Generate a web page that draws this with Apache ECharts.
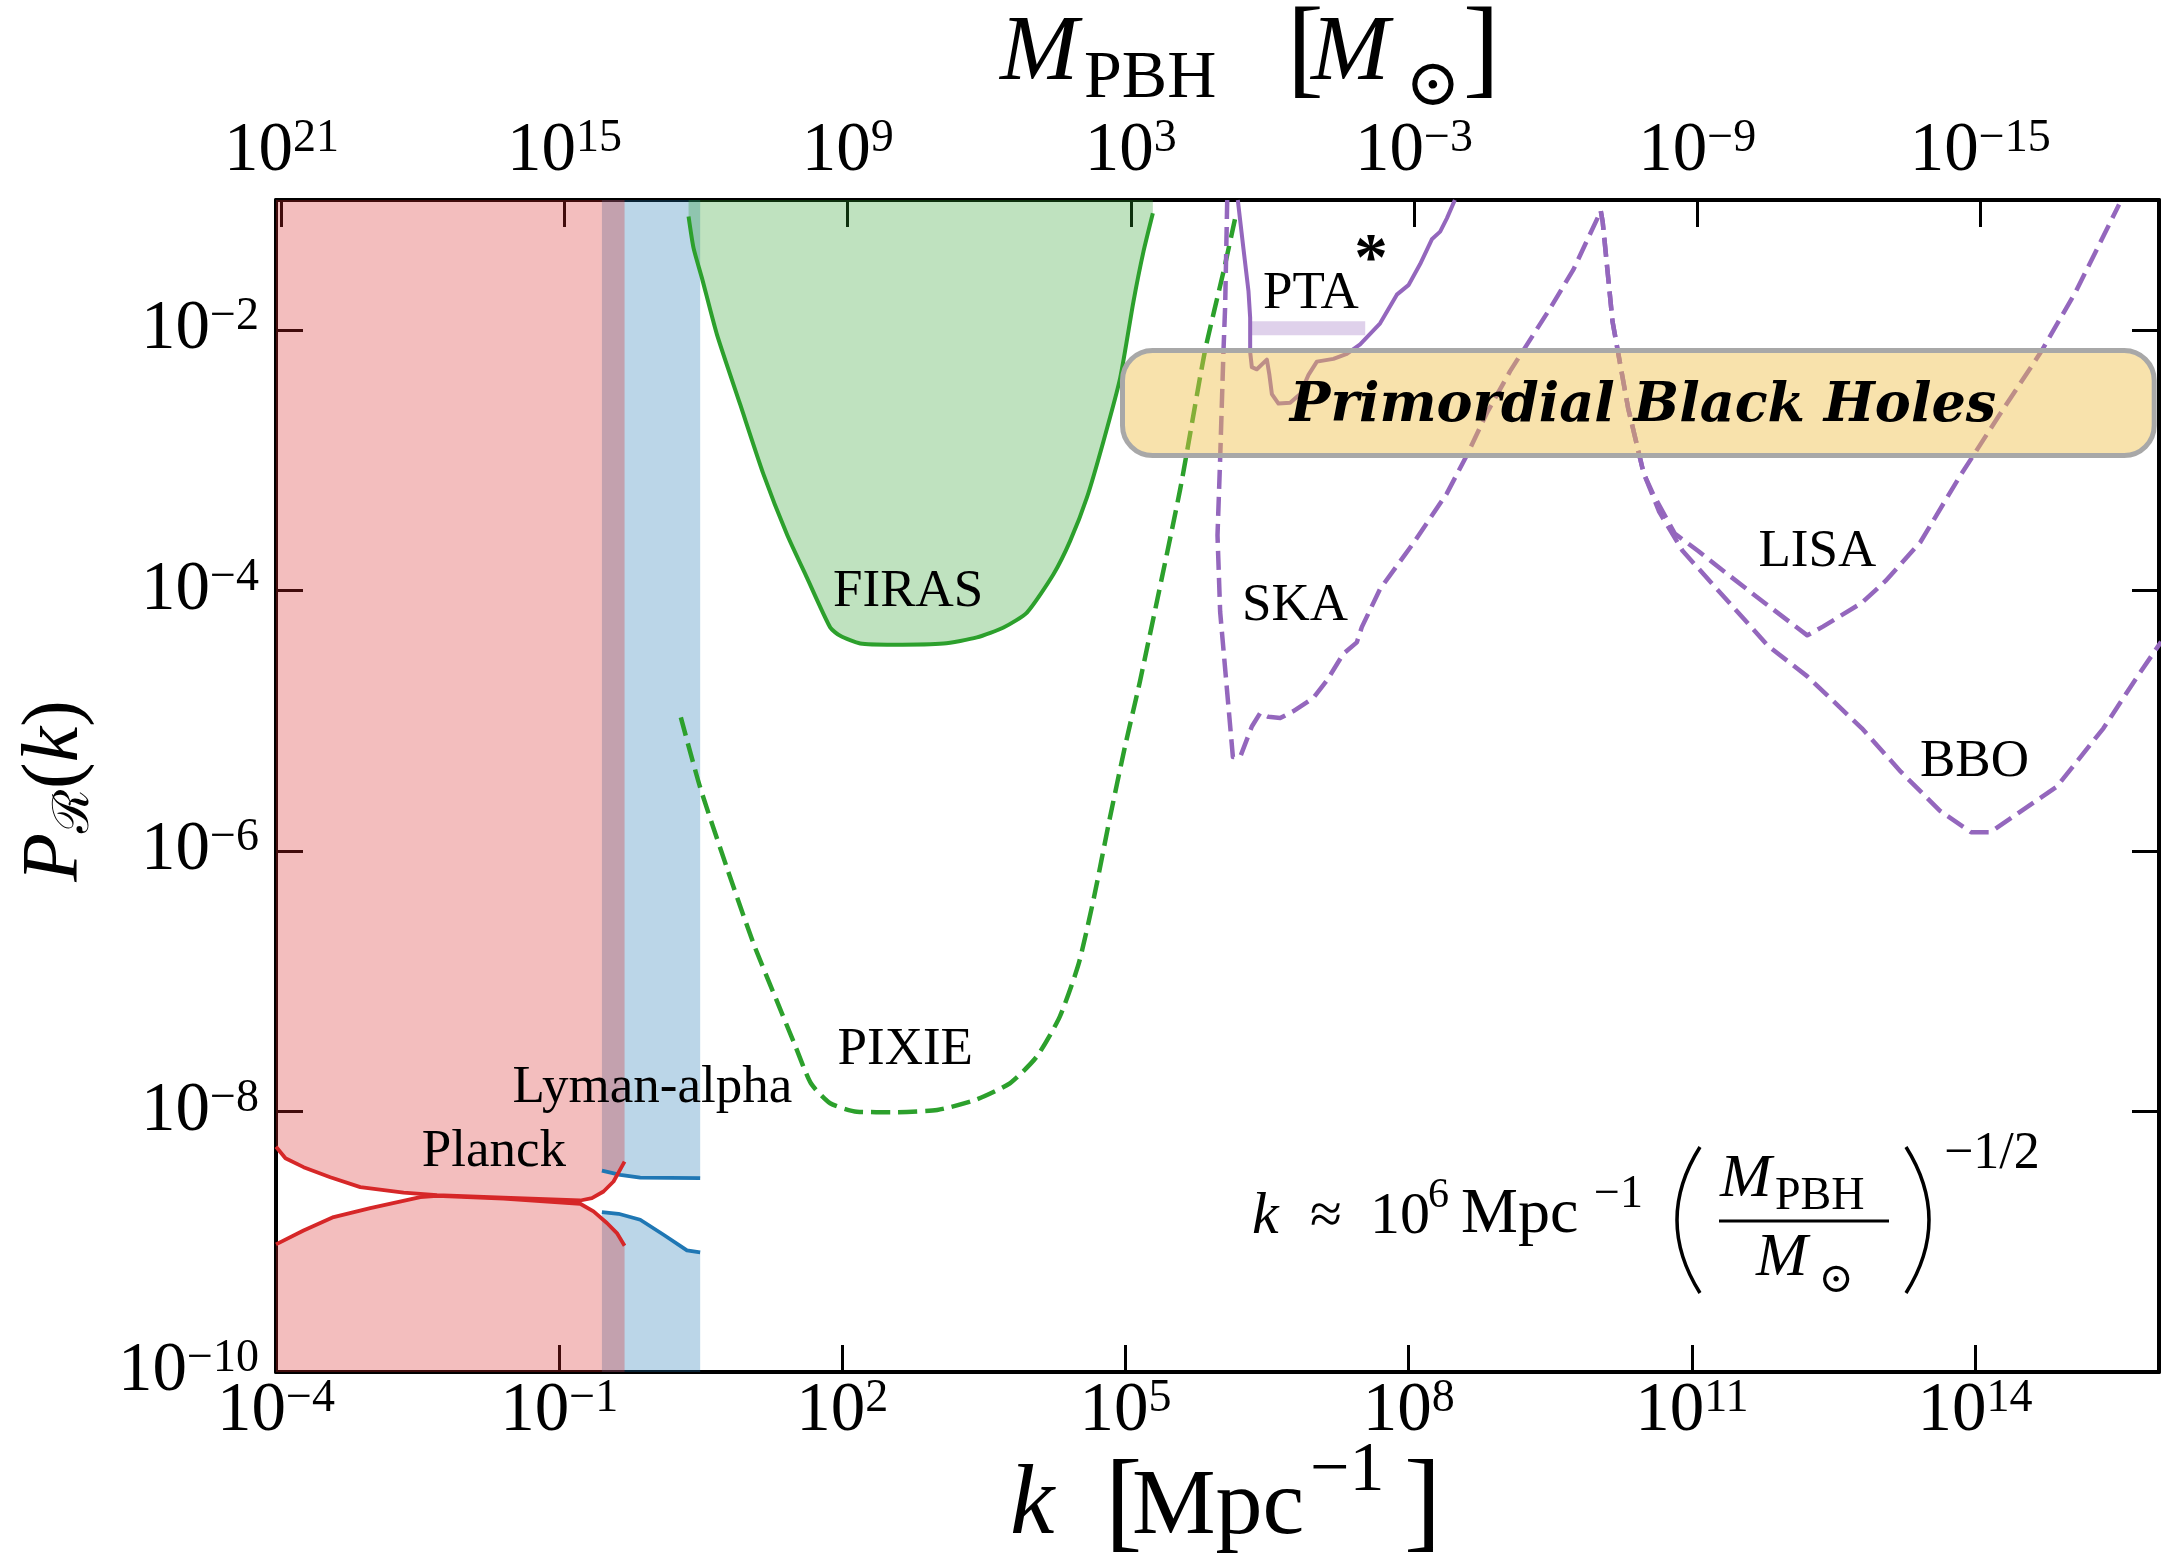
<!DOCTYPE html>
<html>
<head>
<meta charset="utf-8">
<script src="https://cdn.jsdelivr.net/npm/echarts@6/dist/echarts.min.js"></script>
<style>
html,body{margin:0;padding:0;background:#fff;}
#chart{width:2161px;height:1564px;}
</style>
</head>
<body>
<div id="chart"></div>
<script>
// ---- Data (log10 k [Mpc^-1], log10 P_R) ----
const planckUpper = [[-4.0,-8.27],[-3.90,-8.358],[-3.708,-8.427],[-3.425,-8.504],[-3.107,-8.58],[-2.648,-8.622],[-2.294,-8.642],[-1.589,-8.662],[-0.777,-8.683],[-0.653,-8.665],[-0.53,-8.614],[-0.424,-8.537],[-0.307,-8.384]];
const planckLower = [[-4.0,-9.02],[-3.708,-8.913],[-3.39,-8.81],[-3.001,-8.741],[-2.471,-8.657],[-2.294,-8.647],[-1.589,-8.668],[-0.777,-8.708],[-0.636,-8.767],[-0.494,-8.856],[-0.388,-8.933],[-0.307,-9.03]];
const lymanUpper = [[-0.547,-8.453],[-0.353,-8.486],[-0.141,-8.507],[0.494,-8.511]];
const lymanLower = [[-0.547,-8.772],[-0.371,-8.785],[-0.141,-8.831],[0.106,-8.946],[0.354,-9.066],[0.494,-9.082]];
const firas = [[0.371,-1.127],[0.424,-1.37],[0.513,-1.6],[0.672,-2.034],[0.918,-2.57],[1.165,-3.107],[1.413,-3.567],[1.625,-3.9],[1.872,-4.283],[1.978,-4.347],[2.19,-4.406],[2.542,-4.415],[3.072,-4.406],[3.426,-4.359],[3.708,-4.283],[3.956,-4.168],[4.237,-3.874],[4.414,-3.618],[4.591,-3.286],[4.767,-2.852],[4.944,-2.366],[5.085,-1.778],[5.191,-1.395],[5.29,-1.102]];
const pixie = [[0.289,-4.973],[0.493,-5.509],[0.775,-6.123],[1.059,-6.71],[1.303,-7.145],[1.505,-7.502],[1.667,-7.783],[1.871,-7.936],[2.155,-8.001],[2.559,-8.005],[3.005,-7.988],[3.411,-7.911],[3.775,-7.783],[4.059,-7.579],[4.303,-7.273],[4.505,-6.863],[4.667,-6.353],[4.829,-5.765],[4.993,-5.203],[5.155,-4.691],[5.579,-3.223],[5.84,-2.167],[6.038,-1.552],[6.162,-1.141]];
const pta = [[6.19,-1.0],[6.25,-1.375],[6.303,-1.698],[6.321,-1.903],[6.321,-2.167],[6.339,-2.284],[6.392,-2.3],[6.498,-2.226],[6.525,-2.343],[6.551,-2.49],[6.621,-2.563],[6.745,-2.557],[6.851,-2.49],[6.939,-2.343],[7.028,-2.241],[7.203,-2.22],[7.345,-2.182],[7.486,-2.109],[7.698,-1.947],[7.875,-1.727],[7.998,-1.654],[8.122,-1.492],[8.246,-1.302],[8.334,-1.243],[8.405,-1.141],[8.49,-1.0]];
const ptaBar = [[6.32,-1.985],[7.54,-1.985]];
const ska = [[6.078,-1.0],[6.056,-1.815],[6.038,-2.167],[6.003,-2.989],[5.975,-3.575],[6.003,-4.162],[6.074,-4.749],[6.138,-5.277],[6.215,-5.277],[6.339,-5.043],[6.427,-4.94],[6.515,-4.969],[6.639,-4.978],[6.78,-4.925],[6.992,-4.823],[7.133,-4.691],[7.309,-4.484],[7.451,-4.397],[7.504,-4.28],[7.698,-3.986],[8.051,-3.634],[8.405,-3.253],[8.617,-2.96],[8.828,-2.637],[9.075,-2.314],[9.499,-1.832],[9.747,-1.533],[10.036,-1.085]];
const lisa = [[10.036,-1.085],[10.056,-1.168],[10.16,-1.932],[10.325,-2.597],[10.489,-3.096],[10.593,-3.263],[10.82,-3.562],[11.068,-3.695],[11.357,-3.861],[11.769,-4.093],[12.224,-4.343],[12.389,-4.276],[12.802,-4.093],[13.05,-3.927],[13.421,-3.628],[13.834,-3.129],[14.247,-2.664],[14.7,-2.166],[15.072,-1.699],[15.527,-1.035]];
const bbo = [[10.036,-1.085],[10.056,-1.168],[10.16,-1.932],[10.325,-2.597],[10.489,-3.096],[10.655,-3.395],[10.902,-3.694],[11.316,-4.027],[11.81,-4.425],[12.224,-4.658],[12.802,-5.057],[13.214,-5.39],[13.627,-5.689],[13.958,-5.855],[14.164,-5.855],[14.866,-5.506],[15.361,-5.057],[15.692,-4.691],[15.972,-4.393]];

// axis ranges / ticks (exponents)
const kExpMin = -4, kExpMax = 15.95, kTickStep = 3;
const pExpMin = -10, pExpMax = -1, pTickStep = 2;
const massTickExps = [21, 15, 9, 3, -3, -9, -15];
const massExpLeft = 21.114, massExpRight = -18.786;

const FONT = '"Liberation Serif", "DejaVu Serif", serif';
const RED = '#d62728', BLUE = '#1f77b4', GREEN = '#2ca02c', PURPLE = '#9467bd';

function pow10Label(e) {
  const s = e < 0 ? '\u2212' + Math.abs(e) : String(e);
  return '{b|10}{s|' + s + '}';
}
const tickRich = {
  b: { fontSize: 69, fontFamily: FONT, lineHeight: 72, color: '#000' },
  s: { fontSize: 46, fontFamily: FONT, lineHeight: 42, verticalAlign: 'top', color: '#000' }
};
const axisLineStyle = { show: true, onZero: false, lineStyle: { color: '#000', width: 4 } };
const tickStyle = { show: true, inside: true, length: 27, lineStyle: { color: '#000', width: 3 } };

function lineSeries(name, data, color, opts) {
  opts = opts || {};
  const s = {
    name, type: 'line', data, showSymbol: false, symbol: 'none', silent: true,
    smooth: opts.smooth || 0, z: opts.z || 3,
    lineStyle: { color, width: opts.width || 4, type: opts.dash || 'solid', cap: 'butt', join: 'round' }
  };
  if (opts.area) s.areaStyle = { color: opts.area, origin: opts.origin, opacity: 1 };
  return s;
}

const dash = [19, 8];
const series = [
  lineSeries('Lyman upper', lymanUpper, BLUE, { area: 'rgba(31,119,180,0.3)', origin: 'end', width: 3.8, z: 2 }),
  lineSeries('Lyman lower', lymanLower, BLUE, { area: 'rgba(31,119,180,0.3)', origin: 'start', width: 3.8, z: 2 }),
  lineSeries('Planck upper', planckUpper, RED, { area: 'rgba(214,39,40,0.3)', origin: 'end', width: 3.8, z: 2 }),
  lineSeries('Planck lower', planckLower, RED, { area: 'rgba(214,39,40,0.3)', origin: 'start', width: 3.8, z: 2 }),
  lineSeries('FIRAS', firas, GREEN, { area: 'rgba(44,160,44,0.3)', origin: 'end', width: 4, z: 2, smooth: 0.2 }),
  lineSeries('PIXIE', pixie, GREEN, { dash, width: 4.5, smooth: 0.2 }),
  lineSeries('PTA bar', ptaBar, 'rgba(148,103,189,0.3)', { width: 14 }),
  lineSeries('PTA', pta, PURPLE, { width: 4 }),
  lineSeries('SKA', ska, PURPLE, { dash, width: 4.5 }),
  lineSeries('LISA', lisa, PURPLE, { dash, width: 4.5 }),
  lineSeries('BBO', bbo, PURPLE, { dash, width: 4.5 })
];

// ---- annotation helpers (pixel layout) ----
function txt(text, x, baseline, size, extra) {
  extra = extra || {};
  const off = extra.mid != null ? extra.mid : 0.3375;
  return {
    type: 'text', x: x, y: baseline - off * size, z: 200, silent: true,
    style: {
      text: text, fill: '#000',
      font: (extra.fs || '') + ' ' + size + 'px ' + (extra.family || FONT),
      textAlign: extra.align || 'left', textVerticalAlign: 'middle', verticalAlign: 'middle'
    }
  };
}
const LBL = { mid: 0.245 };

const graphics = [
  // Primordial Black Holes box
  { type: 'rect', z: 150, silent: true, shape: { x: 1122.5, y: 350.5, width: 1031.7, height: 105, r: 30 },
    style: { fill: 'rgba(240,190,70,0.45)', stroke: '#a8a8a8', lineWidth: 5 } },
  txt('Primordial Black Holes', 1643, 423, 54, { fs: 'italic bold', align: 'center', family: '"DejaVu Serif", serif', mid: 0.3 }),
  // region labels
  txt('FIRAS', 833, 605, 53, LBL),
  txt('PIXIE', 837.5, 1063, 53, LBL),
  txt('Lyman-alpha', 512.6, 1101, 53, LBL),
  txt('Planck', 421.7, 1165, 53, LBL),
  txt('PTA', 1263, 307, 53, LBL),
  txt('*', 1371, 284, 67, { fs: 'bold', align: 'center' }),
  txt('SKA', 1242, 619, 53, LBL),
  txt('LISA', 1758.5, 565, 53, LBL),
  txt('BBO', 1920, 775, 53, LBL),
  // top title  M_PBH [M_sun]
  txt('M', 1000, 86, 94, { fs: 'italic' }),
  txt('PBH', 1084, 102, 68),
  txt('[', 1287, 91, 110),
  txt('M', 1311, 86, 94, { fs: 'italic' }),
  { type: 'text', x: 1433, y: 88, z: 200, silent: true, style: { text: '\u2299', fill: '#000', font: '66px "DejaVu Serif", serif', textAlign: 'center', textVerticalAlign: 'middle', verticalAlign: 'middle' } },
  txt(']', 1463, 91, 110),
  // bottom title  k [Mpc^-1]
  txt('k', 1010, 1540, 100, { fs: 'italic' }),
  txt('[', 1105, 1545, 112),
  txt('Mpc', 1132, 1540, 94),
  txt('\u22121', 1310, 1495, 70),
  txt(']', 1404, 1545, 112),
  // formula
  txt('k', 1252, 1237, 60, { fs: 'italic' }),
  txt('\u2248', 1326, 1237, 58, { align: 'center' }),
  txt('10', 1370, 1237, 60),
  txt('6', 1428, 1210, 42),
  txt('Mpc', 1461, 1237, 64),
  txt('\u22121', 1594, 1210, 46),
  { type: 'bezierCurve', z: 200, silent: true, shape: { x1: 1700, y1: 1147, x2: 1700, y2: 1293, cpx1: 1654, cpy1: 1220 }, style: { stroke: '#000', lineWidth: 3.5, fill: 'none' } },
  txt('M', 1720, 1201, 62, { fs: 'italic' }),
  txt('PBH', 1775, 1212, 46),
  { type: 'line', z: 200, silent: true, shape: { x1: 1719, y1: 1221, x2: 1889, y2: 1221 }, style: { stroke: '#000', lineWidth: 3 } },
  txt('M', 1756, 1280, 62, { fs: 'italic' }),
  { type: 'text', x: 1836, y: 1281, z: 200, silent: true, style: { text: '\u2299', fill: '#000', font: '42px "DejaVu Serif", serif', textAlign: 'center', textVerticalAlign: 'middle', verticalAlign: 'middle' } },
  { type: 'bezierCurve', z: 200, silent: true, shape: { x1: 1906, y1: 1147, x2: 1906, y2: 1293, cpx1: 1952, cpy1: 1220 }, style: { stroke: '#000', lineWidth: 3.5, fill: 'none' } },
  txt('\u22121/2', 1944, 1172, 52),
  // y-axis title  P_R(k)
  { type: 'text', x: 56, y: 791, rotation: Math.PI / 2, z: 200, silent: true,
    style: { text: '{p|P}{r|\u211B}{n|(}{i|k}{n|)}', textAlign: 'center', textVerticalAlign: 'middle', verticalAlign: 'middle',
      rich: {
        p: { fontSize: 80, fontFamily: FONT, fontStyle: 'italic', lineHeight: 88, fill: '#000' },
        r: { fontSize: 50, fontFamily: '"DejaVu Serif", ' + FONT, lineHeight: 50, verticalAlign: 'bottom', fill: '#000' },
        n: { fontSize: 80, fontFamily: FONT, lineHeight: 88, fill: '#000' },
        i: { fontSize: 80, fontFamily: FONT, fontStyle: 'italic', lineHeight: 88, fill: '#000' }
      } } }
];

const option = {
  animation: false,
  backgroundColor: '#fff',
  grid: { left: 276, top: 200, width: 1883, height: 1172, containLabel: false, show: false },
  xAxis: [
    {
      type: 'value', position: 'bottom', min: kExpMin, max: kExpMax, interval: kTickStep,
      axisLine: axisLineStyle, axisTick: tickStyle, splitLine: { show: false },
      axisLabel: {
        margin: 4, showMaxLabel: false, rich: tickRich,
        formatter: v => {
          const e = Math.round(v);
          if (Math.abs(v - e) > 1e-6 || (((e - kExpMin) % kTickStep) + kTickStep) % kTickStep !== 0) return '';
          return pow10Label(e);
        }
      }
    },
    {
      type: 'value', position: 'top', inverse: true, min: massExpRight, max: massExpLeft,
      axisLine: axisLineStyle, splitLine: { show: false },
      axisTick: Object.assign({}, tickStyle, { customValues: massTickExps }),
      axisLabel: { margin: 12, rich: tickRich, customValues: massTickExps, formatter: v => pow10Label(Math.round(v)) }
    }
  ],
  yAxis: [
    {
      type: 'value', position: 'left', min: pExpMin, max: pExpMax, interval: pTickStep,
      axisLine: axisLineStyle, axisTick: tickStyle, splitLine: { show: false },
      axisLabel: {
        margin: 17, showMaxLabel: false, rich: tickRich,
        formatter: v => {
          const e = Math.round(v);
          if (Math.abs(v - e) > 1e-6 || ((e - pExpMin) % pTickStep) !== 0) return '';
          return pow10Label(e);
        }
      }
    },
    {
      type: 'value', position: 'right', min: pExpMin, max: pExpMax, interval: pTickStep,
      axisLine: axisLineStyle, axisTick: tickStyle, splitLine: { show: false },
      axisLabel: { show: false }
    }
  ],
  series: series,
  graphic: { elements: graphics }
};

const chart = echarts.init(document.getElementById('chart'), null, { renderer: 'canvas' });
chart.setOption(option);
</script>
</body>
</html>
